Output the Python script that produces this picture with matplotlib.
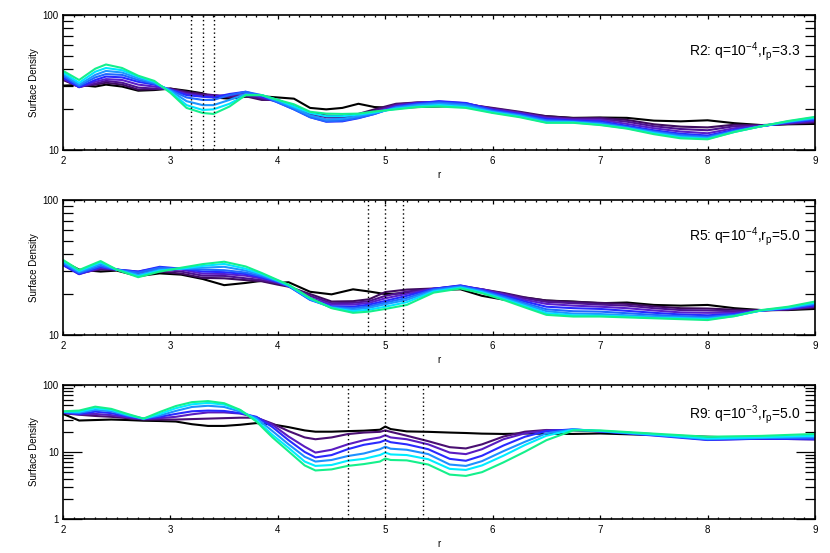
import numpy as np
import matplotlib
matplotlib.use("Agg")
import matplotlib.pyplot as plt
from matplotlib.ticker import LogLocator, MultipleLocator, NullFormatter, FuncFormatter

plt.rcParams['font.family'] = ['Liberation Sans', 'DejaVu Sans']
plt.rcParams['mathtext.fontset'] = 'custom'
plt.rcParams['mathtext.rm'] = 'Liberation Sans'
plt.rcParams['mathtext.it'] = 'Liberation Sans:italic'
plt.rcParams['mathtext.bf'] = 'Liberation Sans:bold'

# ---------------- Panel R2: q=1e-4, rp=3.3 ----------------
r_R2 = [2.0, 2.15, 2.3, 2.4, 2.55, 2.7, 2.85, 3.0, 3.15, 3.3, 3.4, 3.55, 3.7, 3.85, 4.0, 4.15,
        4.3, 4.45, 4.6, 4.75, 4.9, 5.1, 5.3, 5.5, 5.75, 6.0, 6.25, 6.5, 6.75, 7.0, 7.25, 7.5,
        7.75, 8.0, 8.25, 8.5, 8.75, 9.0]
R2_t0 = [30, 30.3, 29.5, 30.5, 29.5, 27.5, 27.8, 28.5, 27.5, 26.3, 24.5, 24, 24.8, 25, 24.5, 24,
         20.5, 20, 20.5, 22, 20.8, 20.5, 20.8, 21, 21.3, 19, 18.5, 17.8, 17.3, 17.4, 17.3, 16.5,
         16.3, 16.6, 15.8, 15.3, 15.5, 15.6]
R2_t1 = [33, 29.5, 30.5, 31.5, 30.5, 28, 28.2, 28.5, 27, 26, 25.5, 24.5, 25, 23.5, 23.5, 21,
         19, 18, 17.8, 18.5, 20, 22, 22.5, 22.5, 21.8, 20.5, 19.2, 17.8, 17.2, 17.3, 16.7, 15.5,
         14.9, 14.7, 15.4, 15.2, 15.6, 16]
R2_t2 = [33.5, 29.3, 31, 32.5, 31.5, 29, 28.5, 28.2, 26.5, 25.5, 25.5, 25, 25.5, 24, 23, 20.8,
         18.5, 17.5, 17.3, 18, 19.5, 21.7, 22.5, 22.7, 22, 20.3, 19, 17.5, 17, 17, 16.2, 15,
         14.3, 14, 15, 15.2, 15.7, 16.2]
R2_t3 = [34, 29.2, 32, 33.5, 33, 30.5, 29.5, 28, 26, 25, 25, 25.5, 26.5, 24.5, 23, 20.5,
         18, 16.8, 16.8, 17.5, 19, 21.3, 22.3, 22.8, 22.2, 20, 18.8, 17.3, 16.8, 16.7, 15.6, 14.5,
         13.7, 13.3, 14.5, 15.1, 15.8, 16.5]
R2_t4 = [34.5, 29.2, 33, 35, 34.5, 32, 30.5, 28, 25.5, 24.8, 24.5, 26, 27, 25, 22.5, 20,
         17.5, 16.2, 16.3, 17.2, 18.5, 21, 22.2, 23, 22.3, 19.8, 18.5, 17, 16.5, 16.3, 15.1, 14,
         13.2, 12.8, 14.1, 15, 16, 16.7]
R2_t5 = [35.5, 29.8, 34.5, 36.5, 36, 33, 31, 27.8, 24.5, 23.5, 23.5, 25.5, 27, 25.5, 22.5, 20,
         17.5, 16.3, 16.5, 17.3, 18.5, 20.8, 21.8, 22.5, 21.8, 19.5, 18.2, 16.6, 16.3, 15.9, 14.8, 13.7,
         12.9, 12.5, 13.9, 15, 16.1, 17]
R2_t6 = [36.5, 30.5, 36, 38.5, 37.5, 34, 31.5, 27.5, 23, 21.5, 21.5, 23.5, 26, 25.5, 23, 20.5,
         18, 16.8, 17, 17.8, 18.8, 20.5, 21.5, 22, 21.3, 19.2, 18, 16.3, 16.1, 15.6, 14.6, 13.5,
         12.6, 12.3, 13.7, 15, 16.2, 17.2]
R2_t7 = [37.5, 31.5, 38, 40.5, 39, 35, 32, 27, 21.5, 19.8, 20, 22, 25.5, 25.5, 23.5, 21,
         18.8, 17.8, 17.8, 18.3, 19, 20.2, 21, 21.5, 20.8, 19, 17.7, 16, 16, 15.4, 14.5, 13.3,
         12.4, 12.1, 13.6, 15, 16.3, 17.4]
R2_t8 = [38.6, 33, 40, 43, 40.5, 35.5, 32.5, 26.5, 20.5, 18.8, 18.5, 21, 25.5, 25.5, 23.5, 21.8,
         19.2, 18.6, 18.5, 18.6, 19.3, 20, 20.8, 21, 20.5, 18.8, 17.5, 15.9, 15.9, 15.3, 14.4, 13.1,
         12.2, 12.0, 13.6, 15, 16.4, 17.6]

# ---------------- Panel R5: q=1e-4, rp=5.0 ----------------
r_R5 = [2.0, 2.15, 2.35, 2.5, 2.7, 2.9, 3.1, 3.3, 3.5, 3.7, 3.85, 4.0, 4.1, 4.3, 4.5, 4.7,
        4.85, 5.0, 5.2, 5.45, 5.7, 5.9, 6.1, 6.3, 6.5, 6.75, 7.0, 7.25, 7.5, 7.75, 8.0, 8.25,
        8.5, 8.75, 9.0]
R5_t0 = [35, 30.5, 29.5, 30, 27.3, 28.6, 28, 26, 23.4, 24.3, 25.2, 24.3, 24.6, 20.9, 20.0, 21.8,
         21, 20.1, 20.4, 21.5, 21.8, 19.5, 18.3, 18.9, 18, 17.7, 17.2, 17.4, 16.7, 16.5, 16.7, 15.8,
         15.3, 15.3, 15.6]
R5_t1 = [33.5, 29, 30.5, 30.5, 28.5, 29.5, 28.5, 26.5, 26.3, 25.5, 25, 23.6, 22.8, 20.1, 17.7, 17.8,
         18.4, 20.8, 21.7, 22.1, 22.7, 21.8, 20.5, 19, 18, 17.6, 17.3, 17, 16.3, 15.8, 15.7, 15.4,
         15.2, 15.4, 16.0]
R5_t2 = [33.5, 28.5, 31, 30.5, 29, 30.5, 29.5, 27.5, 27.4, 26.3, 25.5, 24.2, 23, 19.5, 17.2, 17.3,
         17.8, 19.5, 21, 22, 23, 21.8, 20.3, 18.7, 17.6, 17.2, 16.8, 16.5, 15.8, 15.3, 15.2, 15,
         15.2, 15.5, 16.2]
R5_t3 = [33, 28.2, 31.5, 30.5, 29.5, 31.5, 30.5, 28.5, 28.3, 27.5, 26.2, 24.5, 23, 18.8, 16.8, 16.8,
         17.3, 18.7, 20.2, 22, 23.2, 21.8, 20, 18.2, 17, 16.5, 16.2, 15.8, 15.2, 14.7, 14.6, 14.6,
         15.2, 15.6, 16.4]
R5_t4 = [33, 28.3, 32, 30.5, 29.5, 32, 31, 29.5, 29.2, 28.3, 26.7, 24.7, 23, 18.3, 16.3, 16.2,
         16.8, 17.9, 19.5, 22, 23.3, 21.6, 19.6, 17.7, 16.2, 15.8, 15.6, 15.1, 14.6, 14.2, 14, 14.3,
         15.2, 15.7, 16.6]
R5_t5 = [34, 28.8, 32.5, 30.5, 29, 31.5, 31, 30.5, 30.2, 29, 27.2, 24.9, 23, 18.2, 16.1, 15.8,
         16.3, 17.4, 18.8, 21.7, 23, 21.3, 19.2, 17.2, 15.5, 15, 14.9, 14.5, 14.1, 13.8, 13.6, 14.1,
         15.2, 15.8, 16.9]
R5_t6 = [34.5, 29.3, 33.5, 30.5, 28, 30.5, 31, 31.5, 32, 30, 27.8, 25.1, 23.2, 18.4, 16, 15.4,
         15.9, 16.9, 18.2, 21.3, 22.7, 21, 18.8, 16.8, 15, 14.4, 14.3, 14, 13.7, 13.5, 13.3, 13.9,
         15.2, 15.9, 17.1]
R5_t7 = [35.5, 29.8, 34.5, 30.5, 27.3, 30, 31, 32.5, 33.6, 31, 28.3, 25.3, 23.4, 18.6, 15.9, 15.0,
         15.4, 16.2, 17.5, 21, 22.4, 20.7, 18.5, 16.4, 14.5, 14, 13.9, 13.7, 13.4, 13.3, 13.1, 13.8,
         15.2, 16.0, 17.4]
R5_t8 = [36, 30.3, 35.3, 30.5, 26.8, 29.5, 31.5, 33.5, 34.9, 32.2, 28.8, 25.5, 23.6, 18.8, 15.8, 14.6,
         14.9, 15.6, 16.7, 20.6, 22.1, 20.4, 18.2, 16, 14.1, 13.7, 13.7, 13.5, 13.3, 13.1, 12.9, 13.8,
         15.3, 16.2, 17.7]

# ---------------- Panel R9: q=1e-3, rp=5.0 ----------------
r_R9 = [2.0, 2.15, 2.3, 2.45, 2.6, 2.75, 2.9, 3.05, 3.2, 3.35, 3.5, 3.65, 3.8, 3.95, 4.1, 4.25,
        4.35, 4.5, 4.65, 4.8, 4.95, 5.0, 5.05, 5.2, 5.4, 5.6, 5.75, 5.9, 6.1, 6.3, 6.5, 6.75,
        7.0, 7.5, 8.0, 8.5, 9.0]
R9_t0 = [37, 29.5, 30, 30.5, 30, 29.3, 29, 28.5, 26, 24.5, 24.5, 25.5, 27, 25.8, 23.5, 21,
         20.1, 20.1, 20.5, 20.8, 21.5, 24, 22, 20.3, 20, 19.5, 19.2, 18.8, 18.6, 18.9, 18.7, 18.6,
         18.9, 17.9, 16.9, 16, 16]
R9_t1 = [38, 36, 34.5, 33.5, 32, 30.5, 30.5, 30.5, 31, 31.5, 32, 32.5, 32.5, 26.5, 20.5, 16.5,
         15.5, 16.5, 18.5, 19.5, 20, 21, 20, 17.5, 14.5, 11.8, 11.3, 13, 17, 20.1, 21.3, 21,
         20.3, 18.5, 15.5, 15.8, 15.5]
R9_t2 = [38.5, 36.5, 37, 35.5, 33, 31, 32, 33.5, 36.5, 39, 39, 37.5, 33, 25.5, 17, 12,
         9.8, 10.8, 13, 15, 16.5, 17.8, 16.5, 15.5, 13, 9.8, 9.3, 11, 15.5, 19, 21, 21.3,
         20.3, 18.3, 15.3, 15.8, 15.5]
R9_t3 = [39, 37, 40, 38, 34, 31.5, 33.5, 37, 40.5, 41.5, 41, 38, 33.5, 23.5, 15, 10,
         8.3, 9, 11, 12.8, 14, 15, 14, 13, 11, 7.9, 7.4, 8.8, 12.5, 16.9, 20.5, 21.8,
         20.3, 17.6, 15.1, 15.8, 15.5]
R9_t4 = [39.5, 38.5, 42.5, 40.5, 35, 31.5, 35, 41, 47, 49, 47, 40, 32, 20.5, 13, 8.5,
         7.2, 7.6, 8.7, 9.5, 11, 12, 11.2, 10.8, 9.3, 6.5, 6.2, 7.3, 10.3, 14.2, 19, 21.8,
         20.5, 18, 15.5, 16.2, 16.5]
R9_t5 = [40, 40, 45, 42.5, 36, 31.5, 37, 45, 51.5, 54, 51, 42, 30, 18, 11.5, 7.2,
         6.2, 6.4, 7.4, 7.9, 9, 9.8, 9.2, 9, 7.8, 5.6, 5.4, 6.3, 8.8, 12.7, 17.5, 21.5,
         20.7, 18.3, 16, 16.6, 17.5]
R9_t6 = [40.5, 41.5, 47.5, 44, 37, 31.5, 39.5, 48.5, 55.5, 57.5, 53.5, 42.5, 28.5, 16.5, 10.2, 6.3,
         5.3, 5.5, 6.2, 6.6, 7.2, 8.0, 7.6, 7.5, 6.5, 4.6, 4.4, 5.0, 7.0, 10.1, 15, 21,
         21, 18.8, 16.9, 17.4, 18.6]

# planet parameters (dotted lines at rp and rp +/- Hill radius)
q_vals = [1e-4, 1e-4, 1e-3]
rp_vals = [3.3, 5.0, 5.0]
labels = [r"R2: q=10$^{-4}$,r$_\mathrm{p}$=3.3",
          r"R5: q=10$^{-4}$,r$_\mathrm{p}$=5.0",
          r"R9: q=10$^{-3}$,r$_\mathrm{p}$=5.0"]

colors9 = ['#000000', '#3e0c5e', '#4e1290', '#5a1ec8', '#2828ff', '#2068ff', '#1e96ff', '#00e4ff', '#14f08c']
colors7 = ['#000000', '#4a0f72', '#5a1cc0', '#2a2aff', '#1e90ff', '#00ecff', '#14f08c']

panels = [
    (r_R2, [R2_t0, R2_t1, R2_t2, R2_t3, R2_t4, R2_t5, R2_t6, R2_t7, R2_t8], colors9, (10, 100), 0.726),
    (r_R5, [R5_t0, R5_t1, R5_t2, R5_t3, R5_t4, R5_t5, R5_t6, R5_t7, R5_t8], colors9, (10, 100), 0.728),
    (r_R9, [R9_t0, R9_t1, R9_t2, R9_t3, R9_t4, R9_t5, R9_t6], colors7, (1, 100), 0.776),
]

W, H = 830, 553
fig = plt.figure(figsize=(W / 100, H / 100), dpi=100)
boxes = [(15, 150), (200, 335), (385, 519)]
left, right = 63, 815

for i, ((xr, lines, cols, ylim, ty), (top, bot)) in enumerate(zip(panels, boxes)):
    ax = fig.add_axes([left / W, 1 - bot / H, (right - left) / W, (bot - top) / H])
    for y, c in zip(lines, cols):
        ax.plot(xr, y, color=c, lw=1.5, solid_joinstyle='round')
    rp, q = rp_vals[i], q_vals[i]
    rh = rp * (q / 3.0) ** (1.0 / 3.0)
    for xv in (rp - rh, rp, rp + rh):
        ax.axvline(xv, color='black', ls=(0, (1, 2)), lw=1.0)
    ax.set_xlim(2, 9)
    ax.set_yscale('log')
    ax.set_ylim(*ylim)
    ax.xaxis.set_major_locator(MultipleLocator(1))
    ax.xaxis.set_minor_locator(MultipleLocator(0.1))
    ax.yaxis.set_major_locator(LogLocator(base=10, numticks=10))
    ax.yaxis.set_minor_locator(LogLocator(base=10, subs=np.arange(2, 10), numticks=20))
    ax.yaxis.set_minor_formatter(NullFormatter())
    ax.yaxis.set_major_formatter(FuncFormatter(lambda v, p: "%d" % round(v)))
    ax.tick_params(axis='both', which='both', direction='in', top=True, right=True,
                   labelsize=7, width=0.9, colors='black')
    ax.tick_params(axis='x', which='major', length=3, pad=4)
    ax.tick_params(axis='x', which='minor', length=1.6)
    ax.tick_params(axis='y', which='major', length=14, pad=3)
    ax.tick_params(axis='y', which='minor', length=7.5)
    for s in ax.spines.values():
        s.set_linewidth(1.2)
    ax.set_ylabel('Surface Density', fontsize=7, labelpad=3)
    ax.set_xlabel('r', fontsize=7, labelpad=3)
    ax.text(0.981, ty, labels[i], transform=ax.transAxes, ha='right', va='center', fontsize=10)

fig.savefig('out.png', dpi=100)
